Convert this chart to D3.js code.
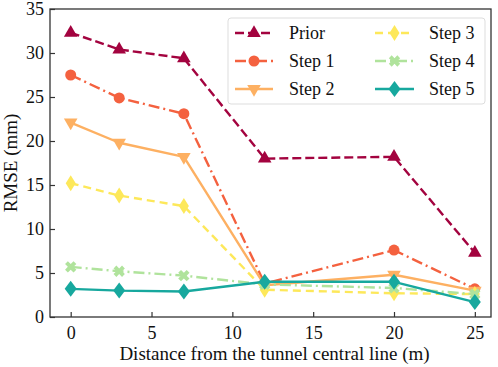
<!DOCTYPE html>
<html><head><meta charset="utf-8">
<script src="https://cdn.jsdelivr.net/npm/d3@7"></script>
<style>html,body{margin:0;padding:0;background:#fff}svg{display:block}</style>
</head><body>
<svg id="c" width="498" height="367"></svg>
<script>
const distances = [0, 3, 7, 12, 20, 25];
const seriesNames = ["Prior", "Step 1", "Step 2", "Step 3", "Step 4", "Step 5"];
const prior = [32.3, 30.4, 29.4, 18.0, 18.2, 7.3];
const step1 = [27.5, 24.9, 23.1, 3.8, 7.6, 3.2];
const step2 = [22.1, 19.8, 18.2, 3.6, 4.8, 3.0];
const step3 = [15.2, 13.8, 12.6, 3.1, 2.7, 2.6];
const step4 = [5.7, 5.2, 4.7, 3.7, 3.3, 2.6];
const step5 = [3.2, 3.0, 2.9, 4.0, 4.0, 1.7];
const xTicks = [0, 5, 10, 15, 20, 25];
const yTicks = [0, 5, 10, 15, 20, 25, 30, 35];

const seriesValues = [prior, step1, step2, step3, step4, step5];
const colors = ["#a3033f", "#f4613f", "#fdb062", "#fde85a", "#b0e39c", "#17a89e"];
const dashes = ["9,4", "11,4,2,4", null, "8,5", "11,4,2,4", null];
const markers = ["tri", "circle", "triDown", "thinDiamond", "x", "diamond"];

const FONT = '"Liberation Serif"';
const svg = d3.select("#c");
const L = 50, R = 491, T = 9, B = 317;
const x = d3.scaleLinear().domain([-1.28, 26.0]).range([L, R]);
const y = d3.scaleLinear().domain([0, 35]).range([B, T]);

function markerPath(kind) {
  switch (kind) {
    case "tri": return d3.symbol(d3.symbolTriangle, 80)();
    case "circle": return d3.symbol(d3.symbolCircle, 95)();
    case "triDown": return d3.symbol(d3.symbolTriangle, 80)();
    case "thinDiamond": return "M0,-8L5,0L0,8L-5,0Z";
    case "x": return d3.symbol(d3.symbolCross, 80)();
    case "diamond": return "M0,-8L6,0L0,8L-6,0Z";
  }
}
function markerRot(kind) {
  if (kind === "triDown") return " rotate(180)";
  if (kind === "x") return " rotate(45)";
  return "";
}

svg.append("rect").attr("x", L).attr("y", T).attr("width", R - L).attr("height", B - T)
  .attr("fill", "none").attr("stroke", "#333").attr("stroke-width", 1.3);

const xAxis = d3.axisBottom(x).tickValues(xTicks).tickSizeInner(-5).tickSizeOuter(0).tickPadding(9);
const gx = svg.append("g").attr("transform", `translate(0,${B})`).call(xAxis);
const yAxis = d3.axisLeft(y).tickValues(yTicks).tickSizeInner(-5).tickSizeOuter(0).tickPadding(6);
const gy = svg.append("g").attr("transform", `translate(${L},0)`).call(yAxis);
[gx, gy].forEach(g => {
  g.select(".domain").remove();
  g.selectAll(".tick line").attr("stroke", "#333").attr("stroke-width", 1.2);
  g.selectAll(".tick text").style("font-family", FONT).attr("font-size", 18).attr("fill", "#111");
});

svg.append("text").attr("x", (L + R) / 2 + 4).attr("y", 360).attr("text-anchor", "middle")
  .style("font-family", FONT).attr("font-size", 19).attr("fill", "#111")
  .text("Distance from the tunnel central line (m)");
svg.append("text").attr("transform", `translate(17,${(T + B) / 2}) rotate(-90)`).attr("text-anchor", "middle")
  .style("font-family", FONT).attr("font-size", 19).attr("fill", "#111").text("RMSE (mm)");

const line = d3.line().x((d, i) => x(distances[i])).y(d => y(d));
seriesValues.forEach((vals, k) => {
  const g = svg.append("g");
  g.append("path").datum(vals).attr("d", line).attr("fill", "none")
    .attr("stroke", colors[k]).attr("stroke-width", 2.4)
    .attr("stroke-dasharray", dashes[k]).attr("stroke-linejoin", "round");
  g.selectAll("path.m").data(vals).enter().append("path").attr("class", "m")
    .attr("d", markerPath(markers[k]))
    .attr("transform", (d, i) => `translate(${x(distances[i])},${y(d)})${markerRot(markers[k])}`)
    .attr("fill", colors[k]);
});

const lg = svg.append("g");
lg.append("rect").attr("x", 228).attr("y", 18).attr("width", 257).attr("height", 86).attr("rx", 3)
  .attr("fill", "#fff").attr("fill-opacity", 0.85).attr("stroke", "#ddd").attr("stroke-width", 1);
seriesNames.forEach((name, k) => {
  const col = Math.floor(k / 3), row = k % 3;
  const hx0 = col === 0 ? 235 : 375, hx1 = col === 0 ? 273 : 414;
  const ty = 33 + row * 28;
  const hm = (hx0 + hx1) / 2;
  lg.append("line").attr("x1", hx0).attr("x2", hx1).attr("y1", ty).attr("y2", ty)
    .attr("stroke", colors[k]).attr("stroke-width", 2.4).attr("stroke-dasharray", dashes[k]);
  lg.append("path").attr("d", markerPath(markers[k]))
    .attr("transform", `translate(${hm},${ty})${markerRot(markers[k])}`).attr("fill", colors[k]);
  lg.append("text").attr("x", col === 0 ? 289 : 429).attr("y", ty + 6)
    .style("font-family", FONT).attr("font-size", 18).attr("fill", "#111").text(name);
});
</script>
</body></html>
